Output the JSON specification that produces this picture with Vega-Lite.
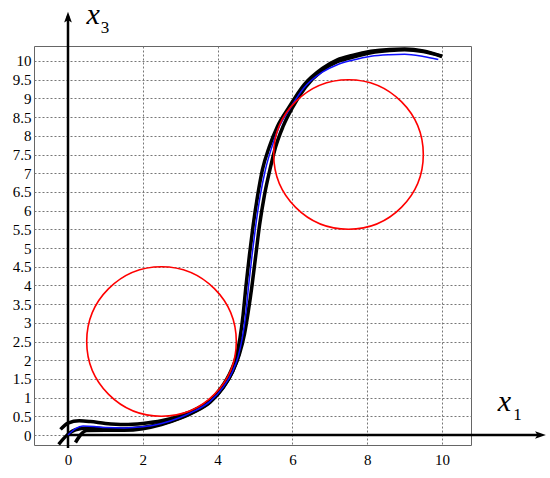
{
  "$schema": "https://vega.github.io/schema/vega-lite/v6.json",
  "autosize": {"type": "none"},
  "padding": {"left": 34, "top": 46, "right": 79, "bottom": 33},
  "width": 437,
  "height": 399,
  "background": "white",
  "config": {
    "view": {"stroke": "#666666", "strokeWidth": 1},
    "axis": {"labelFont": "Liberation Serif, serif", "labelFontSize": 15, "labelColor": "black", "ticks": false, "tickSize": 0, "domain": false, "grid": true, "gridDash": [2, 2], "gridColor": "#777777", "gridWidth": 1, "gridOpacity": 1, "labelOverlap": false, "labelFlush": false, "title": null}
  },
  "datasets": {
    "curves": [
      {"curve": "A", "x": -0.2, "y": 0.15}, {"curve": "A", "x": 0.0, "y": 0.32}, {"curve": "A", "x": 0.3, "y": 0.38}, {"curve": "A", "x": 0.6, "y": 0.36}, {"curve": "A", "x": 1.0, "y": 0.31}, {"curve": "A", "x": 1.5, "y": 0.28}, {"curve": "A", "x": 2.0, "y": 0.31}, {"curve": "A", "x": 2.5, "y": 0.38}, {"curve": "A", "x": 3.0, "y": 0.52}, {"curve": "A", "x": 3.4, "y": 0.68}, {"curve": "A", "x": 3.8, "y": 0.93}, {"curve": "A", "x": 4.1, "y": 1.27}, {"curve": "A", "x": 4.35, "y": 1.7}, {"curve": "A", "x": 4.5, "y": 2.1}, {"curve": "A", "x": 4.6, "y": 2.6}, {"curve": "A", "x": 4.68, "y": 3.2}, {"curve": "A", "x": 4.76, "y": 4.0}, {"curve": "A", "x": 4.85, "y": 4.8}, {"curve": "A", "x": 4.95, "y": 5.6}, {"curve": "A", "x": 5.07, "y": 6.4}, {"curve": "A", "x": 5.2, "y": 7.1}, {"curve": "A", "x": 5.38, "y": 7.7}, {"curve": "A", "x": 5.6, "y": 8.25}, {"curve": "A", "x": 5.9, "y": 8.75}, {"curve": "A", "x": 6.3, "y": 9.35}, {"curve": "A", "x": 6.8, "y": 9.8}, {"curve": "A", "x": 7.2, "y": 10.03}, {"curve": "A", "x": 7.6, "y": 10.15}, {"curve": "A", "x": 8.1, "y": 10.26}, {"curve": "A", "x": 8.6, "y": 10.31}, {"curve": "A", "x": 9.0, "y": 10.32}, {"curve": "A", "x": 9.5, "y": 10.27}, {"curve": "A", "x": 10.0, "y": 10.13},
      {"curve": "B", "x": 0.2, "y": -0.2}, {"curve": "B", "x": 0.35, "y": 0.02}, {"curve": "B", "x": 0.5, "y": 0.12}, {"curve": "B", "x": 1.0, "y": 0.13}, {"curve": "B", "x": 1.5, "y": 0.13}, {"curve": "B", "x": 2.0, "y": 0.17}, {"curve": "B", "x": 2.5, "y": 0.28}, {"curve": "B", "x": 3.0, "y": 0.45}, {"curve": "B", "x": 3.4, "y": 0.63}, {"curve": "B", "x": 3.8, "y": 0.88}, {"curve": "B", "x": 4.15, "y": 1.27}, {"curve": "B", "x": 4.4, "y": 1.7}, {"curve": "B", "x": 4.58, "y": 2.15}, {"curve": "B", "x": 4.72, "y": 2.7}, {"curve": "B", "x": 4.82, "y": 3.3}, {"curve": "B", "x": 4.92, "y": 4.0}, {"curve": "B", "x": 5.02, "y": 4.8}, {"curve": "B", "x": 5.12, "y": 5.6}, {"curve": "B", "x": 5.25, "y": 6.4}, {"curve": "B", "x": 5.4, "y": 7.1}, {"curve": "B", "x": 5.55, "y": 7.7}, {"curve": "B", "x": 5.75, "y": 8.25}, {"curve": "B", "x": 6.0, "y": 8.75}, {"curve": "B", "x": 6.35, "y": 9.3}, {"curve": "B", "x": 6.8, "y": 9.75}, {"curve": "B", "x": 7.2, "y": 9.98}, {"curve": "B", "x": 7.6, "y": 10.1}, {"curve": "B", "x": 8.1, "y": 10.22}, {"curve": "B", "x": 8.6, "y": 10.28}, {"curve": "B", "x": 9.0, "y": 10.3}, {"curve": "B", "x": 9.5, "y": 10.25}, {"curve": "B", "x": 10.0, "y": 10.12},
      {"curve": "C", "x": -0.25, "y": -0.25}, {"curve": "C", "x": 0.0, "y": 0.02}, {"curve": "C", "x": 0.2, "y": 0.14}, {"curve": "C", "x": 0.5, "y": 0.19}, {"curve": "C", "x": 1.0, "y": 0.17}, {"curve": "C", "x": 1.5, "y": 0.16}, {"curve": "C", "x": 2.0, "y": 0.2}, {"curve": "C", "x": 2.5, "y": 0.3}, {"curve": "C", "x": 3.0, "y": 0.46}, {"curve": "C", "x": 3.4, "y": 0.64}, {"curve": "C", "x": 3.8, "y": 0.89}, {"curve": "C", "x": 4.15, "y": 1.28}, {"curve": "C", "x": 4.4, "y": 1.7}, {"curve": "C", "x": 4.55, "y": 2.1}, {"curve": "C", "x": 4.66, "y": 2.6},
      {"curve": "blue", "x": 0.0, "y": 0.0}, {"curve": "blue", "x": 0.2, "y": 0.17}, {"curve": "blue", "x": 0.4, "y": 0.24}, {"curve": "blue", "x": 0.7, "y": 0.23}, {"curve": "blue", "x": 1.0, "y": 0.2}, {"curve": "blue", "x": 1.5, "y": 0.19}, {"curve": "blue", "x": 2.0, "y": 0.22}, {"curve": "blue", "x": 2.5, "y": 0.31}, {"curve": "blue", "x": 3.0, "y": 0.47}, {"curve": "blue", "x": 3.4, "y": 0.65}, {"curve": "blue", "x": 3.8, "y": 0.9}, {"curve": "blue", "x": 4.15, "y": 1.28}, {"curve": "blue", "x": 4.4, "y": 1.7}, {"curve": "blue", "x": 4.55, "y": 2.1}, {"curve": "blue", "x": 4.66, "y": 2.6}, {"curve": "blue", "x": 4.75, "y": 3.2}, {"curve": "blue", "x": 4.83, "y": 4.0}, {"curve": "blue", "x": 4.92, "y": 4.8}, {"curve": "blue", "x": 5.02, "y": 5.6}, {"curve": "blue", "x": 5.14, "y": 6.4}, {"curve": "blue", "x": 5.28, "y": 7.1}, {"curve": "blue", "x": 5.45, "y": 7.7}, {"curve": "blue", "x": 5.65, "y": 8.25}, {"curve": "blue", "x": 5.95, "y": 8.75}, {"curve": "blue", "x": 6.3, "y": 9.27}, {"curve": "blue", "x": 6.8, "y": 9.7}, {"curve": "blue", "x": 7.2, "y": 9.9}, {"curve": "blue", "x": 7.6, "y": 10.02}, {"curve": "blue", "x": 8.1, "y": 10.13}, {"curve": "blue", "x": 8.6, "y": 10.17}, {"curve": "blue", "x": 9.0, "y": 10.18}, {"curve": "blue", "x": 9.5, "y": 10.12}, {"curve": "blue", "x": 9.9, "y": 10.04}
    ],
    "circles": [{"x": 2.5, "y": 2.5}, {"x": 7.5, "y": 7.5}],
    "axes": [{"x": 0, "y": -0.35, "x2": 0, "y2": 11.2}, {"x": 0, "y": 0, "x2": 12.62, "y2": 0}],
    "heads": [{"x": 0, "y": 11.13, "dir": "up"}, {"x": 12.59, "y": 0, "dir": "right"}],
    "names": [{"t": "x", "x": 0.67, "y": 10.98}, {"t": "x", "x": 11.67, "y": 0.65}],
    "subs": [{"t": "3", "x": 0.99, "y": 10.74}, {"t": "1", "x": 12.02, "y": 0.4}]
  },
  "encoding": {
    "x": {"field": "x", "type": "quantitative", "scale": {"domain": [-0.909, 10.775], "nice": false, "zero": false},
      "axis": {"values": [0, 2, 4, 6, 8, 10], "format": "d", "labelPadding": 7}},
    "y": {"field": "y", "type": "quantitative", "scale": {"domain": [-0.267, 10.401], "nice": false, "zero": false},
      "axis": {"values": [0, 0.5, 1, 1.5, 2, 2.5, 3, 3.5, 4, 4.5, 5, 5.5, 6, 6.5, 7, 7.5, 8, 8.5, 9, 9.5, 10], "format": "~g", "labelPadding": 3}}
  },
  "layer": [
    {"data": {"name": "axes"}, "mark": {"type": "rule", "color": "black", "strokeWidth": 2.5},
      "encoding": {"x2": {"field": "x2"}, "y2": {"field": "y2"}}},
    {"data": {"name": "heads"}, "mark": {"type": "point", "filled": true, "color": "black", "opacity": 1, "size": 196},
      "encoding": {"shape": {"field": "dir", "type": "nominal", "legend": null,
        "scale": {"domain": ["up", "right"], "range": ["M0,-1L0.55,0.55L0,0.2L-0.55,0.55Z", "M1,0L-0.55,0.55L-0.2,0L-0.55,-0.55Z"]}}}},
    {"data": {"name": "curves"}, "transform": [{"filter": "datum.curve != 'blue'"}],
      "mark": {"type": "line", "color": "black", "strokeWidth": 3.5, "interpolate": "monotone"},
      "encoding": {"detail": {"field": "curve", "type": "nominal"}}},
    {"data": {"name": "curves"}, "transform": [{"filter": "datum.curve == 'blue'"}],
      "mark": {"type": "line", "color": "#1010ff", "strokeWidth": 1.5, "interpolate": "monotone"},
      "encoding": {}},
    {"data": {"name": "circles"}, "mark": {"type": "point", "shape": "circle", "filled": false, "color": "#ff0000", "opacity": 1, "strokeWidth": 1.6, "size": 22380},
      "encoding": {}},
    {"data": {"name": "names"}, "mark": {"type": "text", "font": "Liberation Serif, serif", "fontStyle": "italic", "fontSize": 30, "align": "center", "baseline": "alphabetic", "color": "black"},
      "encoding": {"text": {"field": "t"}}},
    {"data": {"name": "subs"}, "mark": {"type": "text", "font": "Liberation Serif, serif", "fontSize": 17, "align": "center", "baseline": "alphabetic", "color": "black"},
      "encoding": {"text": {"field": "t"}}}
  ]
}
